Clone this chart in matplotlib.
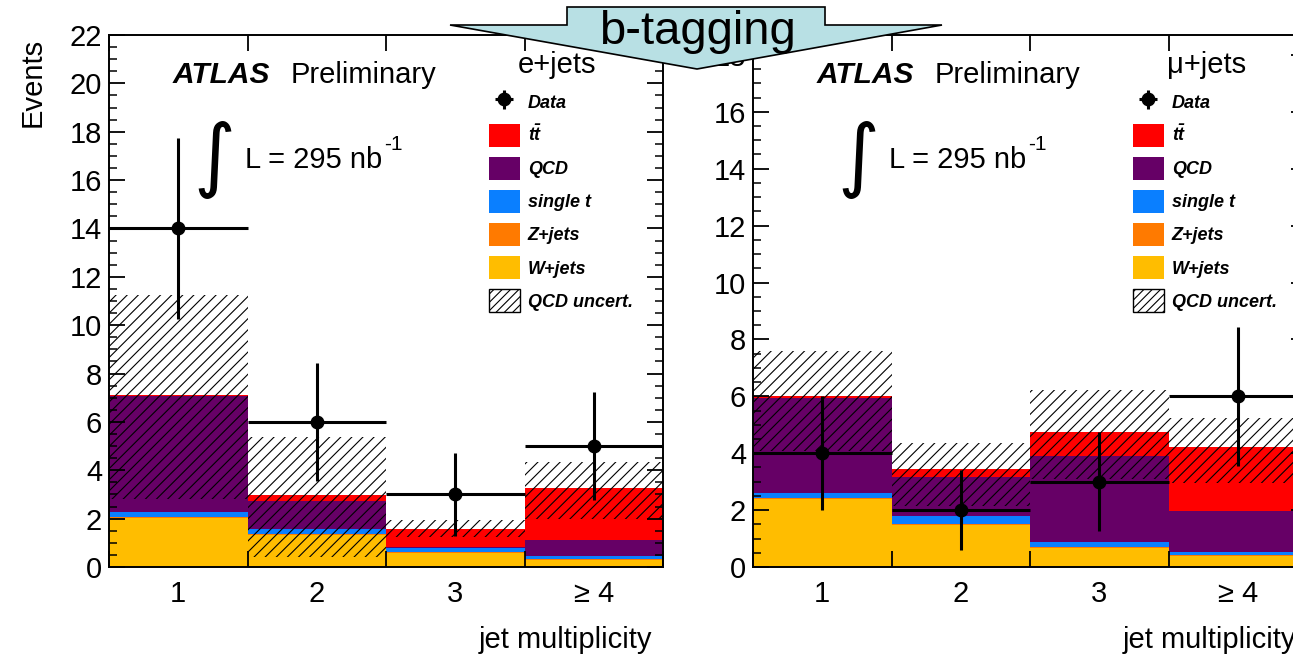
import matplotlib

matplotlib.use("Agg")
import matplotlib.pyplot as plt
import numpy as np
from matplotlib.patches import Patch, Polygon
from matplotlib.ticker import MultipleLocator

# jet multiplicity bins
CATEGORIES = ["1", "2", "3", "\u2265 4"]

# e+jets channel (stack, bottom to top)
E_WJETS = [2.04, 1.31, 0.58, 0.30]
E_ZJETS = [0.04, 0.04, 0.03, 0.03]
E_SINGLET = [0.20, 0.24, 0.18, 0.11]
E_QCD = [4.78, 1.13, 0.02, 0.69]
E_TTBAR = [0.05, 0.27, 0.78, 2.14]
E_BAND_LO = [2.83, 0.41, 1.25, 2.00]
E_BAND_HI = [11.24, 5.38, 1.93, 4.34]
E_DATA = [14, 6, 3, 5]
E_ERR = [3.74, 2.45, 1.73, 2.24]

# mu+jets channel
M_WJETS = [2.40, 1.47, 0.68, 0.38]
M_ZJETS = [0.03, 0.03, 0.03, 0.03]
M_SINGLET = [0.18, 0.31, 0.18, 0.12]
M_QCD = [3.34, 1.35, 3.02, 1.45]
M_TTBAR = [0.05, 0.28, 0.83, 2.23]
M_BAND_LO = [4.09, 2.13, 3.08, 2.96]
M_BAND_HI = [7.60, 4.36, 6.22, 5.24]
M_DATA = [4, 2, 3, 6]
M_ERR = [2.00, 1.41, 1.73, 2.45]

COLORS = {
    "ttbar": "#FF0000",
    "qcd": "#660066",
    "singlet": "#0A7FFF",
    "zjets": "#FF7A00",
    "wjets": "#FFBD00",
}

W, H = 1293, 657
plt.rcParams.update({
    "font.family": ["Liberation Sans", "DejaVu Sans"],
    "font.size": 21,
    "hatch.linewidth": 0.8,
    "mathtext.fontset": "custom",
    "mathtext.rm": "Liberation Sans",
    "mathtext.it": "Liberation Sans:italic",
    "mathtext.bf": "Liberation Sans:bold:italic",
})


def px_axes(x0, x1, y0, y1):
    return [x0 / W, 1 - y1 / H, (x1 - x0) / W, (y1 - y0) / H]


def draw_panel(ax, stack, lo, hi, data, err, ymax, channel, ch_x):
    x = np.arange(1, len(CATEGORIES) + 1)
    bottom = np.zeros(len(x))
    for key, vals in stack:
        ax.bar(x, vals, width=1.0, bottom=bottom, color=COLORS[key], linewidth=0, zorder=1)
        bottom = bottom + np.asarray(vals)
    lo = np.asarray(lo)
    hi = np.asarray(hi)
    ax.bar(x, hi - lo, width=1.0, bottom=lo, facecolor="none", edgecolor="black",
           hatch="///", linewidth=0, zorder=2)
    eb = ax.errorbar(x, data, yerr=err, xerr=0.5, fmt="o", color="black", ms=9,
                     elinewidth=2.2, capsize=0, zorder=4)

    ax.set_xlim(0.5, 4.5)
    ax.set_ylim(0, ymax)
    ax.set_xticks(np.arange(0.5, 4.6, 1.0))
    ax.set_xticklabels([])
    ax.set_xticks(x, minor=True)
    ax.set_xticklabels(CATEGORIES, minor=True)
    ax.tick_params(axis="x", which="major", direction="in", length=11.5, width=1.3,
                   top=True, bottom=True)
    ax.tick_params(axis="x", which="minor", length=0, pad=9, labelsize=21)
    ax.yaxis.set_major_locator(MultipleLocator(2))
    ax.yaxis.set_minor_locator(MultipleLocator(0.5))
    ax.tick_params(axis="y", which="major", direction="in", length=11.5, width=1.3,
                   left=True, right=True, pad=5, labelsize=21)
    ax.tick_params(axis="y", which="minor", direction="in", length=5.5, width=1.1,
                   left=True, right=True)
    for sp in ax.spines.values():
        sp.set_linewidth(1.4)

    ax.text(0.114, 0.925, "ATLAS", transform=ax.transAxes, fontsize=21.5,
            fontweight="bold", fontstyle="italic", va="center", ha="left")
    ax.text(0.327, 0.925, "Preliminary", transform=ax.transAxes, fontsize=21,
            va="center", ha="left")
    ax.text(0.19, 0.765, "\u222b", transform=ax.transAxes, fontsize=58,
            va="center", ha="center", family=["DejaVu Sans"])
    ax.text(0.245, 0.765, "L = 295 nb", transform=ax.transAxes, fontsize=21,
            va="center", ha="left")
    ax.text(0.497, 0.795, "-1", transform=ax.transAxes, fontsize=15,
            va="center", ha="left")
    ax.text(ch_x, 0.944, channel, transform=ax.transAxes, fontsize=21,
            va="center", ha="center")
    ax.text(0.98, -0.137, "jet multiplicity", transform=ax.transAxes, fontsize=21,
            va="center", ha="right")

    handles = [eb] + [Patch(facecolor=COLORS[k], edgecolor="none") for k in
                      ["ttbar", "qcd", "singlet", "zjets", "wjets"]]
    handles.append(Patch(facecolor="white", edgecolor="black", hatch="////", linewidth=1))
    labels = ["Data", r"$\mathbf{t\bar{t}}$", "QCD", "single t", "Z+jets", "W+jets",
              "QCD uncert."]
    leg = ax.legend(handles, labels, loc="upper left", bbox_to_anchor=(0.686, 0.895),
                    frameon=False, borderpad=0, borderaxespad=0, handlelength=1.7,
                    handleheight=1.55, handletextpad=0.45, labelspacing=0.58,
                    prop={"size": 13, "weight": "bold", "style": "italic"})
    leg.set_zorder(5)


fig = plt.figure(figsize=(W / 100, H / 100), dpi=100)
fig.patch.set_facecolor("white")

ax_e = fig.add_axes(px_axes(109, 663, 35, 567))
ax_m = fig.add_axes(px_axes(753, 1307, 35, 567))

draw_panel(ax_e,
           [("wjets", E_WJETS), ("zjets", E_ZJETS), ("singlet", E_SINGLET),
            ("qcd", E_QCD), ("ttbar", E_TTBAR)],
           E_BAND_LO, E_BAND_HI, E_DATA, E_ERR, 22, "e+jets", 0.809)
draw_panel(ax_m,
           [("wjets", M_WJETS), ("zjets", M_ZJETS), ("singlet", M_SINGLET),
            ("qcd", M_QCD), ("ttbar", M_TTBAR)],
           M_BAND_LO, M_BAND_HI, M_DATA, M_ERR, 18.7, "\u03bc+jets", 0.818)

fig.text(33 / W, 1 - 38 / H, "Events", rotation=90, ha="center", va="top", fontsize=21)

# b-tagging arrow banner
arrow_px = [(567, 7), (825, 7), (825, 25), (942, 25), (697, 69), (450, 25), (567, 25)]
arrow = Polygon([(px / W, 1 - py / H) for px, py in arrow_px], closed=True,
                transform=fig.transFigure, facecolor="#B8E0E4", edgecolor="black",
                linewidth=1.2, zorder=10)
fig.patches.append(arrow)
fig.text(697 / W, 1 - 32 / H, "b-tagging", ha="center", va="center", fontsize=34,
         zorder=11)

fig.savefig("out.png", dpi=100)
